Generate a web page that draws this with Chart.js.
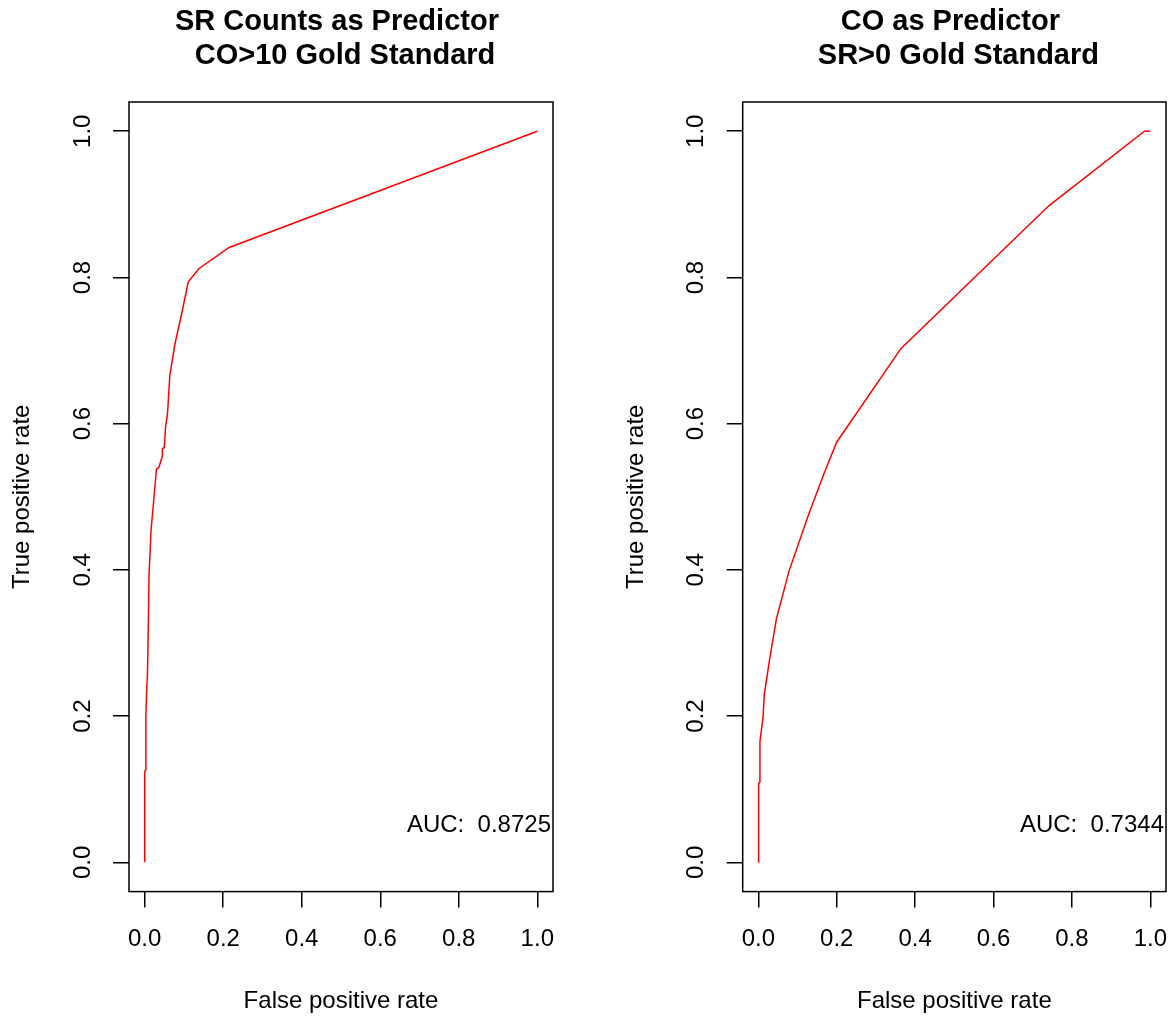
<!DOCTYPE html>
<html>
<head>
<meta charset="utf-8">
<script src="https://cdn.jsdelivr.net/npm/chart.js@4.4.1/dist/chart.umd.min.js"></script>
<style>
  html, body { margin: 0; background: #fff; overflow: hidden; width: 1176px; height: 1021px; }
  .panel { position: absolute; top: 0; width: 588px; height: 1021px; }
  canvas { display: block; }
</style>
</head>
<body>
<div class="panel" style="left:0px"><canvas id="leftChart" width="588" height="1021"></canvas></div>
<div class="panel" style="left:588px"><canvas id="rightChart" width="588" height="1021"></canvas></div>

<script>
// tick labels (both axes, both panels)
const tickValues = [0, 0.2, 0.4, 0.6, 0.8, 1.0]

// left panel: SR counts as predictor, CO>10 gold standard
const srFpr = [0, 0, 0.003, 0.003, 0.005, 0.007, 0.009, 0.011, 0.016, 0.030, 0.036, 0.045, 0.045, 0.050, 0.053, 0.058, 0.064, 0.077, 0.094, 0.111, 0.138, 0.215, 1]
const srTpr = [0, 0.124, 0.127, 0.199, 0.235, 0.256, 0.316, 0.392, 0.453, 0.538, 0.540, 0.556, 0.566, 0.567, 0.595, 0.613, 0.666, 0.709, 0.750, 0.794, 0.812, 0.841, 1]
const srAuc = 'AUC:  0.8725'

// right panel: CO as predictor, SR>0 gold standard
const coFpr = [0, 0, 0.001, 0.001, 0.003, 0.004, 0.012, 0.015, 0.029, 0.046, 0.078, 0.127, 0.169, 0.200, 0.364, 0.741, 0.985, 1]
const coTpr = [0, 0.067, 0.070, 0.107, 0.110, 0.165, 0.199, 0.229, 0.279, 0.333, 0.398, 0.474, 0.534, 0.575, 0.703, 0.898, 1, 1]
const coAuc = 'AUC:  0.7344'

const FONT = "'Liberation Sans', Arial, Helvetica, sans-serif"

// box around the plot region + AUC note
const boxPlugin = {
  id: 'rbox',
  afterDraw(chart) {
    const {ctx, chartArea} = chart
    ctx.save()
    ctx.strokeStyle = '#000'
    ctx.lineWidth = 1.5
    ctx.strokeRect(chartArea.left, chartArea.top, chartArea.right - chartArea.left, chartArea.bottom - chartArea.top)
    ctx.fillStyle = '#000'
    ctx.font = '24px ' + FONT
    ctx.textAlign = 'right'
    ctx.textBaseline = 'middle'
    ctx.fillText(chart.options.aucText, chartArea.right - 2, chart.scales.y.getPixelForValue(0.05))
    ctx.restore()
  }
}

function setTicks(scale) {
  scale.ticks = tickValues.map(v => ({value: v}))
}

function makeChart(id, titleLines, fpr, tpr, auc, padLeft, padRight) {
  const points = fpr.map((x, i) => ({x: x, y: tpr[i]}))

  return new Chart(document.getElementById(id), {
    type: 'line',
    data: {
      datasets: [{
        data: points,
        borderColor: '#ff0000',
        borderWidth: 1.5,
        pointRadius: 0,
        tension: 0,
        fill: false
      }]
    },
    plugins: [boxPlugin],
    options: {
      aucText: auc,
      responsive: false,
      animation: false,
      layout: { padding: { left: padLeft, right: padRight, top: 0, bottom: 5 } },
      plugins: {
        legend: { display: false },
        tooltip: { enabled: false },
        title: {
          display: true,
          fullSize: false,
          text: titleLines,
          color: '#000',
          font: { family: FONT, size: 29, weight: 'bold', lineHeight: 1.15 },
          padding: { top: 5.8, bottom: 29.5 }
        }
      },
      scales: {
        x: {
          type: 'linear',
          min: -0.04,
          max: 1.04,
          afterBuildTicks: setTicks,
          afterFit(s) {
            s.height = 124.4
            // labels may hang past the box edge, don't shrink the plot for them
            s.paddingLeft = 0
            s.paddingRight = 0
          },
          border: { display: false },
          grid: { drawOnChartArea: false, tickLength: 16, color: '#000', lineWidth: 1.5 },
          ticks: {
            autoSkip: false, maxRotation: 0, padding: 17.6, color: '#000',
            font: { family: FONT, size: 24 },
            callback: v => Number(v).toFixed(1)
          },
          title: {
            display: true, text: 'False positive rate', color: '#000',
            font: { family: FONT, size: 24 }, padding: { top: 0, bottom: 0 }
          }
        },
        y: {
          type: 'linear',
          min: -0.04,
          max: 1.04,
          afterBuildTicks: setTicks,
          afterFit(s) {
            s.width = 129
            s.paddingTop = 0
            s.paddingBottom = 0
          },
          border: { display: false },
          grid: { drawOnChartArea: false, tickLength: 16, color: '#000', lineWidth: 1.5 },
          ticks: {
            autoSkip: false, minRotation: 90, maxRotation: 90, crossAlign: 'center',
            padding: 13.3, color: '#000',
            font: { family: FONT, size: 24 },
            callback: v => Number(v).toFixed(1)
          },
          title: {
            display: true, text: 'True positive rate', color: '#000',
            font: { family: FONT, size: 24 }, padding: { top: 8.1, bottom: 0 }
          }
        }
      }
    }
  })
}

makeChart('leftChart', ['SR Counts as Predictor ', ' CO>10 Gold Standard'], srFpr, srTpr, srAuc, 0, 35)
makeChart('rightChart', ['CO as Predictor ', ' SR>0 Gold Standard'], coFpr, coTpr, coAuc, 25.7, 10)
</script>
</body>
</html>
